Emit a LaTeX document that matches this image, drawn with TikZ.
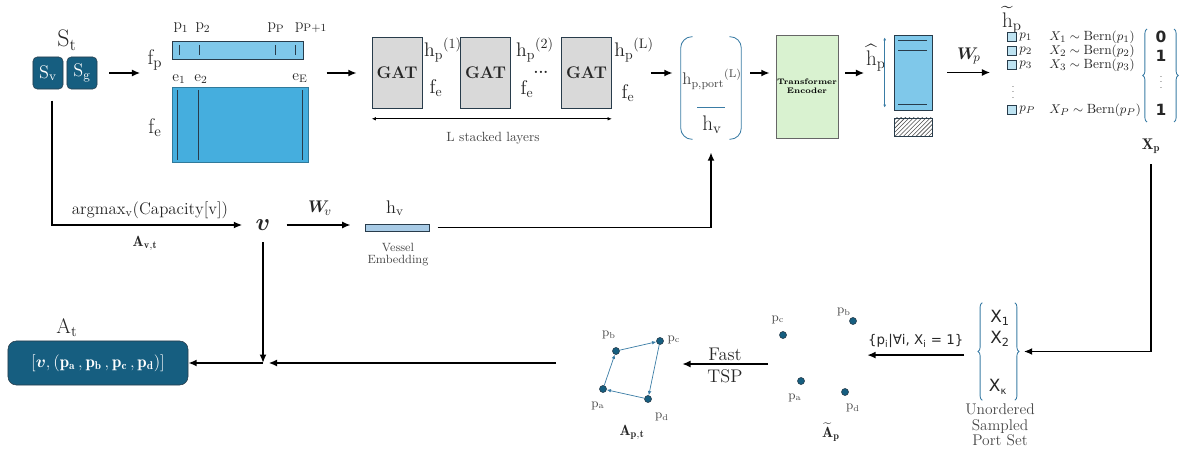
\documentclass[tikz,border=0pt]{standalone}
\usepackage{amsmath,amssymb,bm}
\usepackage{fontspec}
\newfontfamily\dvsans{DejaVu Sans}
\definecolor{tealdark}{RGB}{22,94,128}
\definecolor{rowblue}{RGB}{127,200,234}
\definecolor{edgeblue}{RGB}{69,174,222}
\definecolor{embblue}{RGB}{168,203,230}
\definecolor{sqblue}{RGB}{190,227,242}
\definecolor{gatgray}{RGB}{217,217,217}
\definecolor{encgreen}{RGB}{217,242,208}
\definecolor{steel}{RGB}{58,124,165}
\definecolor{framedark}{RGB}{40,60,75}
\definecolor{txtgray}{RGB}{70,70,70}
\usetikzlibrary{arrows.meta,positioning,calc,patterns,decorations.pathreplacing}

\begin{document}
\begin{tikzpicture}[x=0.025cm, y=-0.025cm,
  every node/.style={text=black!85},
  fsz/.style={font=\fontsize{#1}{#1}\selectfont},
  arr/.style={-{Latex[length=6pt,width=5pt]}, line width=1.4pt},
  thinarr/.style={-{Latex[length=3pt,width=2.5pt]}, steel, line width=0.5pt},
  sbox/.style={draw=framedark, fill=tealdark, rounded corners=3pt, minimum width=0.75cm, minimum height=0.8cm, text=white, fsz=13, inner sep=0pt},
  gat/.style={draw=framedark, fill=gatgray, minimum width=1.25cm, minimum height=1.775cm, font=\fontsize{12}{13}\selectfont\bfseries, inner sep=0pt},
  pt/.style={circle, fill=tealdark, draw=framedark, inner sep=0pt, minimum size=5pt},
  ptlbl/.style={text=txtgray, fsz=9, inner sep=1pt},
  sq/.style={draw=framedark, fill=sqblue, minimum size=0.225cm, inner sep=0pt},
  brc/.style={decorate, decoration={brace, amplitude=3pt}, steel, line width=0.6pt}]
\useasboundingbox (0,0) rectangle (1182,466);

% state
\node[fsz=17] (st) at (67,40) {$\mathrm{S_t}$};
\node[sbox] (sv) at (48,73) {$\mathrm{S_v}$};
\node[sbox] (sg) at (82,73) {$\mathrm{S_g}$};

% port and edge features
\node[fsz=15] (fp) at (155,60) {$\mathrm{f_p}$};
\node[fsz=15] (fe) at (155,128) {$\mathrm{f_e}$};
\node[draw=framedark, fill=rowblue, minimum width=3.275cm, minimum height=0.45cm, anchor=north west, inner sep=0pt] (prow) at (172,41) {};
\foreach \x in {179,199,275,295} \draw[framedark] (\x,45) -- (\x,55);
\node[fsz=11] (p1) at (181,28) {$\mathrm{p_1}$};
\node[fsz=11] (p2) at (203,28) {$\mathrm{p_2}$};
\node[fsz=11] (pP) at (276,28) {$\mathrm{p_P}$};
\node[fsz=11] (pP1) at (311,28) {$\mathrm{p_{P+1}}$};
\node[draw=edgeblue!70!black, fill=edgeblue, minimum width=3.4cm, minimum height=1.875cm, anchor=north west, inner sep=0pt] (ebox) at (172,87) {};
\foreach \x in {177,198,302} \draw[framedark, line width=0.5pt] (\x,90) -- (\x,160);
\node[fsz=11] (e1) at (179,79) {$\mathrm{e_1}$};
\node[fsz=11] (e2) at (201,79) {$\mathrm{e_2}$};
\node[fsz=11] (eE) at (300,78) {$\mathrm{e_E}$};
\draw[arr] ([xshift=0.3cm]sg.east) -- ([xshift=1.075cm]sg.east);

% GAT layers
\node[gat] (gat1) at (397,73) {GAT};
\node[gat] (gat2) at (485.5,73) {GAT};
\node[gat] (gat3) at (586.5,73) {GAT};
\node[fsz=14] (h1) at (443,50) {$\mathrm{h_p}^{(1)}$};
\node[fsz=14] (fe1) at (436,88) {$\mathrm{f_e}$};
\node[fsz=14] (h2) at (535,50) {$\mathrm{h_p}^{(2)}$};
\node[fsz=14] (fe2) at (527,89) {$\mathrm{f_e}$};
\node[fsz=11] (dots) at (541,72) {\textbf{...}};
\node[fsz=14] (h3) at (634,50) {$\mathrm{h_p}^{(\mathrm{L})}$};
\node[fsz=14] (fe3) at (628,93) {$\mathrm{f_e}$};
\draw[arr] ([xshift=-1.125cm]gat1.west) -- ([xshift=-0.375cm]gat1.west);
\draw[{Latex[length=3pt,width=2.5pt]}-{Latex[length=3pt,width=2.5pt]}, line width=0.5pt] ([yshift=-0.25cm]gat1.south west) -- ([yshift=-0.25cm]gat3.south east);
\node[fsz=9.5, text=txtgray] (lstack) at (493,138) {L stacked layers};

% concatenation
\node[minimum width=1.5cm, minimum height=2.55cm, inner sep=0pt] (cat) at (711,88) {};
\draw[steel, line width=0.6pt, rounded corners=8pt] ([xshift=0.3cm]cat.north west) -- (cat.north west) -- (cat.south west) -- ([xshift=0.3cm]cat.south west);
\draw[steel, line width=0.6pt, rounded corners=8pt] ([xshift=-0.3cm]cat.north east) -- (cat.north east) -- (cat.south east) -- ([xshift=-0.3cm]cat.south east);
\node[fsz=12, text=txtgray] (hport) at (712,79) {$\mathrm{h_{p,port}}^{(\mathrm{L})}$};
\node[fsz=15] (hv2) at (712,125) {$\mathrm{h_v}$};
\draw[steel, line width=0.6pt] (697,107) -- (725,107);
\draw[arr] ([xshift=0.975cm]gat3.east) -- ([xshift=-0.2cm]cat.west |- gat3.east);

% transformer
\node[draw=black!60, fill=encgreen, minimum width=1.55cm, minimum height=2.575cm, inner sep=0pt] (enc) at (807,86.5) {};
\node[font=\fontsize{5.7}{6.5}\selectfont\bfseries, align=center, text=black] (enctxt) at (807,86) {Transformer\\Encoder};
\draw[arr] ([xshift=0.225cm]cat.east |- gat3.east) -- ([xshift=-0.15cm]enc.west |- gat3.east);
\draw[arr] ([xshift=0.175cm]enc.east |- gat3.east) -- ++(0.475cm,0);
\node[fsz=15] (hhat) at (876,58) {$\widehat{\mathrm{h}}_\mathrm{p}$};

% port embeddings
\node[draw=framedark, fill=rowblue, minimum width=0.95cm, minimum height=1.875cm, inner sep=0pt] (hbox) at (913,72.5) {};
\foreach \y in {40,50,104} \draw[framedark] (898,\y) -- (927,\y);
\node[draw=framedark, pattern=north east lines, pattern color=black!70, minimum width=0.95cm, minimum height=0.45cm, inner sep=0pt] (pad) at (913,127) {};
\draw[{Latex[length=2pt,width=2pt]}-{Latex[length=2pt,width=2pt]}, steel, line width=0.5pt] ([xshift=-0.225cm,yshift=-2pt]hbox.north west) -- ([xshift=-0.225cm,yshift=2pt]hbox.south west);
\draw[arr] ([xshift=0.375cm]hbox.east) -- ++(1.075cm,0) node[midway, above=2pt, fsz=13] {$\bm{W}_{\!p}$};

% sampling
\node[fsz=15] (htil) at (1012,20) {$\widetilde{\mathrm{h}}_\mathrm{p}$};
\foreach \y/\i in {37/1,51/2,65/3} {
  \node[sq] (sq\i) at (1012,\y) {};
  \node[fsz=9.5, anchor=west, inner sep=0pt] (pl\i) at (1019,\y) {$p_\i$};
  \node[fsz=9.5, anchor=west, inner sep=0pt] (xb\i) at (1049,\y) {$X_\i \sim \mathrm{Bern}(p_\i)$};
}
\node[sq] (sqP) at (1012,110) {};
\node[fsz=9.5, anchor=west, inner sep=0pt] (plP) at (1019,110) {$p_P$};
\node[fsz=9.5, anchor=west, inner sep=0pt] (xbP) at (1049,110) {$X_P \sim \mathrm{Bern}(p_P)$};
\node[fsz=6, text=txtgray] (vd1) at (1013,88) {$\vdots$};
\draw[brc] (1147,122) -- (1147,29);
\draw[brc] (1174,29) -- (1174,122);
\node[font=\dvsans\bfseries\fontsize{11}{12}\selectfont] (b1) at (1161,37) {0};
\node[font=\dvsans\bfseries\fontsize{11}{12}\selectfont] (b2) at (1161,56) {1};
\node[fsz=6, text=txtgray] (vd2) at (1161,78) {$\vdots$};
\node[font=\dvsans\bfseries\fontsize{11}{12}\selectfont] (b3) at (1161,110) {1};
\node[fsz=11] (xp) at (1151,146) {$\mathbf{X_p}$};

% sampled set
\node[minimum width=0.8cm, minimum height=2.425cm, inner sep=0pt] (uset) at (998.5,351.5) {};
\draw[brc] (uset.south west) -- (uset.north west);
\draw[brc] (uset.north east) -- (uset.south east);
\node[font=\dvsans\fontsize{12}{13}\selectfont] (x1) at (1000,318) {X\textsubscript{1}};
\node[font=\dvsans\fontsize{12}{13}\selectfont] (x2) at (1000,339) {X\textsubscript{2}};
\node[font=\dvsans\fontsize{12}{13}\selectfont] (xk) at (998,387) {X\textsubscript{\fontsize{7}{7}\selectfont κ}};
\node[fsz=11, align=center, text=txtgray] (usetlbl) at (1000,425) {Unordered\\Sampled\\Port Set};
\draw[arr] ([yshift=-0.15cm]xp.south) |- ([xshift=0.225cm]uset.east);
\draw[arr] ([xshift=-0.45cm,yshift=-0.09cm]uset.west) -- ++(-2.425cm,0) node[midway, above=1pt, font=\dvsans\fontsize{9.5}{10}\selectfont] {\{p\textsubscript{i}|∀i, X\textsubscript{i} = 1\}};

% unordered ports
\node[pt] (pc) at (783,335) {};
\node[pt] (pb) at (853,321) {};
\node[pt] (pa) at (801,381) {};
\node[pt] (pd) at (845,392) {};
\node[ptlbl] (pcl) at (778,320) {$\mathrm{p_c}$};
\node[ptlbl] (pbl) at (844,312) {$\mathrm{p_b}$};
\node[ptlbl] (pal) at (795,398) {$\mathrm{p_a}$};
\node[ptlbl] (pdl) at (853,408) {$\mathrm{p_d}$};
\node[fsz=10.5] (atil) at (831,432) {$\widetilde{\mathbf{A}}_\mathbf{p}$};

% fast tsp
\draw[arr] ([xshift=-0.725cm]pa.west |- 0,364) -- ++(-2.15cm,0);
\node[fsz=13] (fast) at (725,354) {Fast};
\node[fsz=13] (tsp) at (725,376) {TSP};

% ordered tour
\node[pt] (pb2) at (616,351) {};
\node[pt] (pc2) at (660,341) {};
\node[pt] (pa2) at (603,389) {};
\node[pt] (pd2) at (648,399) {};
\node[ptlbl] (pb2l) at (609,335) {$\mathrm{p_b}$};
\node[ptlbl] (pc2l) at (674,340) {$\mathrm{p_c}$};
\node[ptlbl] (pa2l) at (598,406) {$\mathrm{p_a}$};
\node[ptlbl] (pd2l) at (662,417) {$\mathrm{p_d}$};
\draw[thinarr] (pa2) -- (pb2);
\draw[thinarr] (pb2) -- (pc2);
\draw[thinarr] (pc2) -- (pd2);
\draw[thinarr] (pd2) -- (pa2);
\node[fsz=10.5] (apt) at (632,432) {$\mathbf{A_{p,t}}$};

% vessel selection
\node[fsz=16] (v) at (263,225) {$\bm{v}$};
\node[fsz=12] (argm) at (150,210) {$\mathrm{argmax_v(Capacity[v])}$};
\node[fsz=10.5] (avt) at (145,243) {$\mathbf{A_{v,t}}$};
\draw[arr, shorten <=8pt, shorten >=6pt] ([xshift=3pt]sv.south) |- (v.west);
\node[draw=framedark, fill=embblue, minimum width=1.6cm, minimum height=0.175cm, inner sep=0pt] (emb) at (397,227.5) {};
\node[fsz=13] (hvl) at (395,208) {$\mathrm{h_v}$};
\node[fsz=8.5, align=center, text=txtgray] (embl) at (398,255) {Vessel\\Embedding};
\draw[arr, shorten <=8pt, shorten >=10pt] (v.east) -- (v.east -| emb.west) node[midway, above=3pt, fsz=13] {$\bm{W}_{\!v}$};
\draw[arr, shorten <=6pt] (emb.east) -| ([yshift=-0.325cm]cat.south);

% action
\coordinate (j) at (263,363);
\node[draw=framedark, fill=tealdark, rounded corners=6pt, minimum width=4.5cm, minimum height=1.1cm, text=white, fsz=12] (at) at (98,363) {$[\bm{v}, (\mathbf{p_a}\,, \mathbf{p_b}\,, \mathbf{p_c}\,, \mathbf{p_d})]$};
\node[fsz=15] (atl) at (67,328) {$\mathrm{A_t}$};
\draw[arr, shorten <=5pt] (v.south) -- (j);
\draw[arr] ([xshift=-1.075cm]pa2.west |- j) -- ([xshift=4pt]j);
\draw[arr] (j) -- (at.east);
\end{tikzpicture}
\end{document}
